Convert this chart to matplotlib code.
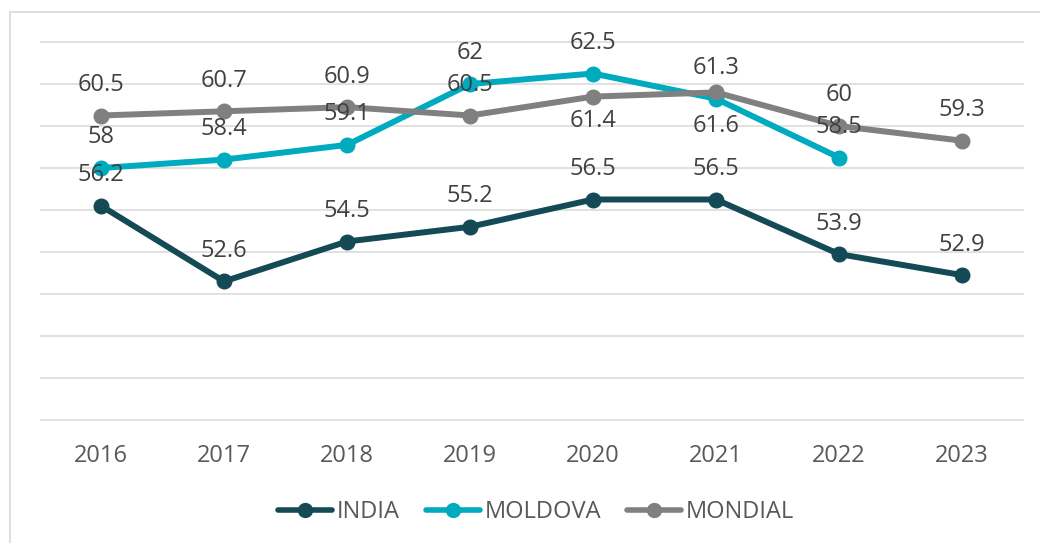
import matplotlib
matplotlib.use("Agg")
import matplotlib.pyplot as plt
from matplotlib.patches import Rectangle
import numpy as np

years = ["2016", "2017", "2018", "2019", "2020", "2021", "2022", "2023"]
india = [56.2, 52.6, 54.5, 55.2, 56.5, 56.5, 53.9, 52.9]
moldova = [58.0, 58.4, 59.1, 62.0, 62.5, 61.3, 58.5, np.nan]
mondial = [60.5, 60.7, 60.9, 60.5, 61.4, 61.6, 60.0, 59.3]
series_names = ["INDIA", "MOLDOVA", "MONDIAL"]

colors = {"INDIA": "#134A56", "MOLDOVA": "#00AABF", "MONDIAL": "#808080"}
# label offsets in points (default above); a few Excel labels sit below
label_offsets = {("MONDIAL", 4): -17.5, ("MONDIAL", 5): -24}

plt.rcParams["font.family"] = ["Open Sans", "DejaVu Sans"]
FS = 17

fig = plt.figure(figsize=(10.4, 5.43), dpi=100)
ax = fig.add_axes([39.5 / 1040, 1 - 420 / 543, 984 / 1040, 378 / 543])

# figure border
fig.patches.append(Rectangle((10 / 1040, -0.1), 1.2, 1.1 - 12 / 543, transform=fig.transFigure,
                             fill=False, edgecolor="#D9D9D9", linewidth=1.2, zorder=0))

x = np.arange(len(years))
ax.set_xlim(-0.5, len(years) - 0.5)
ax.set_ylim(46, 64)
grid_vals = np.arange(46, 64.1, 2)
ax.hlines(grid_vals, -0.5, len(years) - 0.5, colors="#D9D9D9", linewidth=1.1, clip_on=False, zorder=0)

for name, vals in zip(series_names, [india, moldova, mondial]):
    ax.plot(x, vals, color=colors[name], linewidth=4.3, marker="o", markersize=10.5,
            label=name, zorder=3, solid_capstyle="round")
    for i, v in enumerate(vals):
        if np.isnan(v):
            continue
        dy = label_offsets.get((name, i), 22)
        ax.annotate(f"{v:g}", (x[i], v), xytext=(0, dy), textcoords="offset points",
                    ha="center", va="center", fontsize=FS, color="#404040", zorder=5)

ax.set_xticks(x)
ax.set_xticklabels(years, fontsize=FS, color="#595959")
ax.set_yticks([])
ax.tick_params(axis="x", length=0, pad=17)
for s in ax.spines.values():
    s.set_visible(False)

leg = fig.legend(loc="center", bbox_to_anchor=(536 / 1040, 1 - 512 / 543), ncol=3, frameon=False,
                 fontsize=FS, handlelength=2.3, handletextpad=0.2, columnspacing=1.1,
                 labelcolor="#595959")
for h in leg.legend_handles:
    h.set_linewidth(4.0)
    h.set_markersize(10)

fig.savefig("out.png", dpi=100)
